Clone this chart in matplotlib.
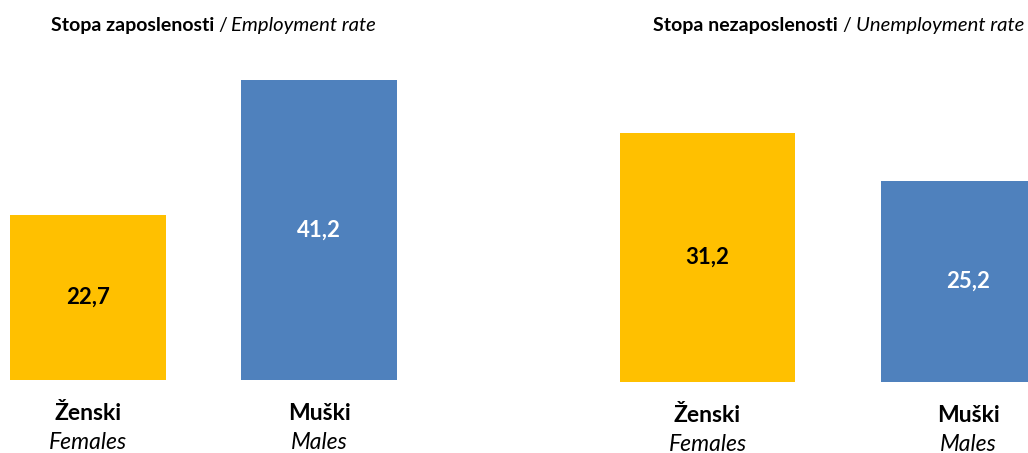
import matplotlib
matplotlib.use("Agg")
import matplotlib.pyplot as plt

plt.rcParams['font.family'] = ['Lato', 'DejaVu Sans']

categories_hr = ["Ženski", "Muški"]
categories_en = ["Females", "Males"]
employment = [22.7, 41.2]
unemployment = [31.2, 25.2]
value_labels_emp = ["22,7", "41,2"]
value_labels_unemp = ["31,2", "25,2"]

colors = ["#FFC000", "#4F81BD"]
text_colors = ["black", "white"]

W, H = 1028, 453
fig = plt.figure(figsize=(W / 100, H / 100), dpi=100)


def px_axes(x0, x1, ytop, ybot):
    return fig.add_axes([x0 / W, (H - ybot) / H, (x1 - x0) / W, (ybot - ytop) / H])


def draw_panel(ax, values, labels, width, xlim, ylim):
    x = range(len(values))
    ax.bar(x, values, width=width, color=colors)
    for i, v in enumerate(values):
        ax.text(i, v / 2, labels[i], ha='center', va='center', fontsize=16,
                fontweight='bold', color=text_colors[i])
        ax.annotate(categories_hr[i], xy=(i, 0), xytext=(0, -24), textcoords='offset points',
                    ha='center', va='center', fontsize=16.5, fontweight='bold',
                    annotation_clip=False)
        ax.annotate(categories_en[i], xy=(i, 0), xytext=(0, -45), textcoords='offset points',
                    ha='center', va='center', fontsize=16.5, fontstyle='italic',
                    annotation_clip=False)
    ax.set_xlim(*xlim)
    ax.set_ylim(*ylim)
    ax.axis('off')


ax1 = px_axes(0, 420, 60, 380)
draw_panel(ax1, employment, value_labels_emp, 156 / 231,
           (-88 / 231, (420 - 88) / 231), (0, 320 / 7.27))

ax2 = px_axes(600, 1028, 60, 382)
draw_panel(ax2, unemployment, value_labels_unemp, 175 / 261,
           (-107.5 / 261, (1028 - 707.5) / 261), (0, 322 / 7.98))

# titles: bold Croatian part, italic English part
ty = 1 - 25 / H
fig.text(214 / W, ty, "Stopa zaposlenosti", ha='right', va='center', fontsize=14, fontweight='bold')
fig.text(223 / W, ty, "/", ha='center', va='center', fontsize=14)
fig.text(231 / W, ty, "Employment rate", ha='left', va='center', fontsize=14.6, fontstyle='italic')

fig.text(838 / W, ty, "Stopa nezaposlenosti", ha='right', va='center', fontsize=14, fontweight='bold')
fig.text(847 / W, ty, "/", ha='center', va='center', fontsize=14)
fig.text(856 / W, ty, "Unemployment rate", ha='left', va='center', fontsize=14.6, fontstyle='italic')

fig.savefig("out.png", dpi=100)
